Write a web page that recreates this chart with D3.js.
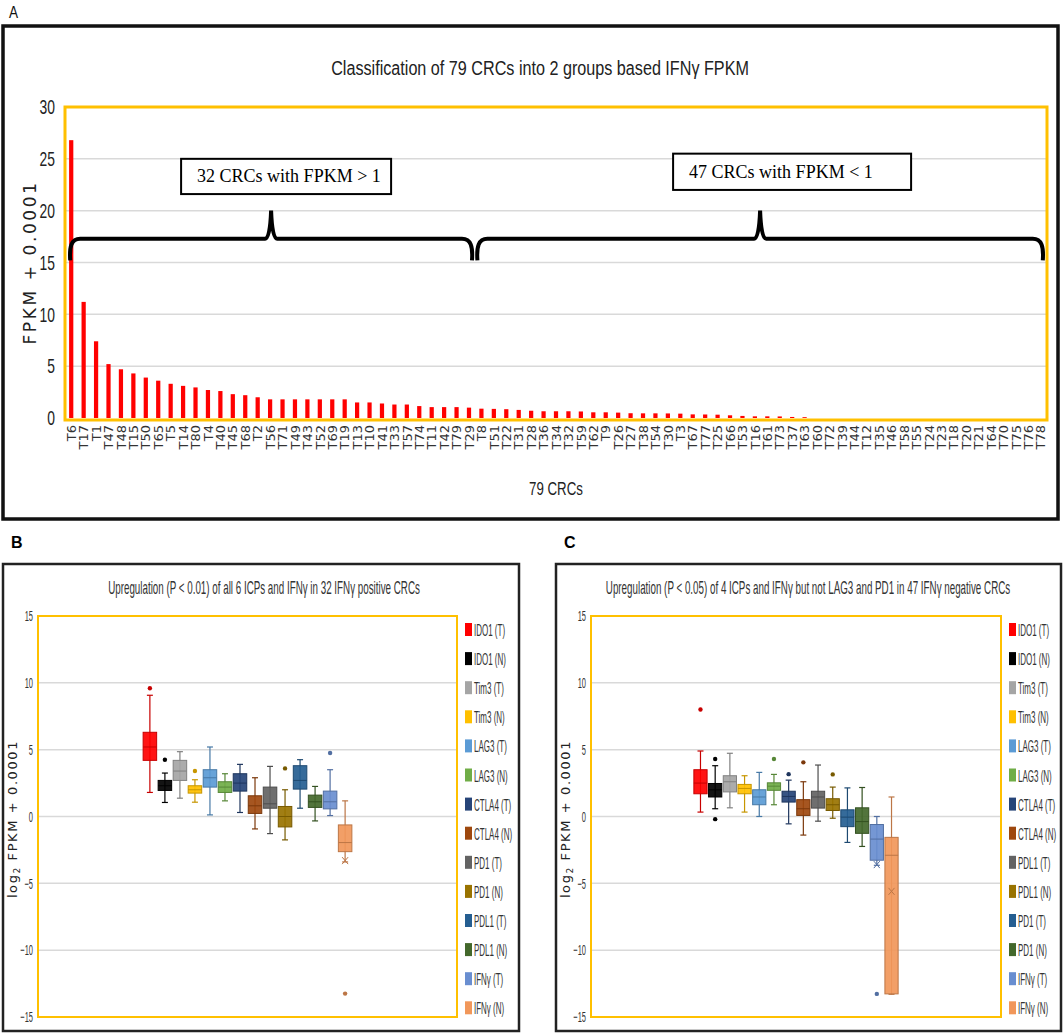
<!DOCTYPE html>
<html>
<head>
<meta charset="utf-8">
<title>IFNγ FPKM classification of CRCs</title>
<script src="https://cdn.jsdelivr.net/npm/d3@7"></script>
<style>
  body { margin: 0; background: #fff; }
  text { font-family: "Liberation Sans", Arial, sans-serif; }
</style>
</head>
<body>
<svg id="fig" width="1064" height="1036"></svg>
<script>
// ---- panel A data: IFNγ FPKM + 0.0001 per tumour, sorted
var samples = ["T6","T17","T1","T47","T48","T15","T50","T65","T5","T14","T80","T4","T40","T45","T68","T2",
  "T56","T71","T49","T43","T52","T69","T19","T13","T10","T41","T33","T57","T74","T11","T42","T79","T29",
  "T8","T51","T22","T31","T28","T36","T34","T32","T59","T62","T9","T26","T27","T38","T54","T30","T3",
  "T67","T77","T25","T66","T53","T16","T61","T73","T37","T63",
  "T60","T72","T39","T44","T12","T35","T46","T58","T55","T24","T23","T18","T20","T21","T64","T70","T75","T76","T78"];
var fpkm = [26.8, 11.2, 7.4, 5.2, 4.7, 4.3, 3.9, 3.6, 3.3, 3.1, 2.95, 2.7, 2.6, 2.3, 2.2, 2.0,
  1.8, 1.8, 1.8, 1.8, 1.8, 1.8, 1.8, 1.5, 1.5, 1.4, 1.3, 1.3, 1.15, 1.05, 1.05, 1.05, 1.0,
  0.9, 0.88, 0.85, 0.78, 0.7, 0.65, 0.65, 0.65, 0.63, 0.55, 0.55, 0.52, 0.46, 0.45, 0.45, 0.44, 0.42,
  0.35, 0.34, 0.32, 0.26, 0.2, 0.16, 0.16, 0.15, 0.1, 0.08,
  0.0001, 0.0001, 0.0001, 0.0001, 0.0001, 0.0001, 0.0001, 0.0001, 0.0001, 0.0001, 0.0001, 0.0001,
  0.0001, 0.0001, 0.0001, 0.0001, 0.0001, 0.0001, 0.0001];
var ticksA = [0, 5, 10, 15, 20, 25, 30];
// groups: first / last sample under each brace, label
var groupFrom = ["T6", "T8"];
var groupTo = ["T29", "T78"];
var groupLabels = ["32 CRCs with FPKM > 1", "47 CRCs with FPKM < 1"];

// ---- panels B / C: log2 FPKM box stats [whisker low, q1, median, q3, whisker high]
var namesB = ["IDO1 (T)","IDO1 (N)","Tim3 (T)","Tim3 (N)","LAG3 (T)","LAG3 (N)","CTLA4 (T)","CTLA4 (N)",
  "PD1 (T)","PD1 (N)","PDL1 (T)","PDL1 (N)","IFNγ (T)","IFNγ (N)"];
var namesC = ["IDO1 (T)","IDO1 (N)","Tim3 (T)","Tim3 (N)","LAG3 (T)","LAG3 (N)","CTLA4 (T)","CTLA4 (N)",
  "PDL1 (T)","PDL1 (N)","PD1 (T)","PD1 (N)","IFNγ (T)","IFNγ (N)"];
var statsB = [
  [1.8, 4.2, 5.2, 6.3, 9.07], [1.05, 1.95, 2.3, 2.7, 3.25], [1.37, 2.7, 3.4, 4.2, 4.85], [1.07, 1.75, 2.0, 2.3, 2.75],
  [0.12, 2.2, 2.9, 3.5, 5.2], [1.17, 1.8, 2.2, 2.6, 3.2], [0.3, 1.9, 2.5, 3.2, 3.9], [-0.93, 0.23, 0.8, 1.55, 2.9],
  [-1.28, 0.62, 0.95, 2.2, 3.75], [-1.75, -0.78, 0.0, 0.75, 2.0], [0.62, 2.05, 2.7, 3.8, 4.25], [-0.33, 0.68, 1.1, 1.6, 2.25],
  [0.07, 0.57, 1.1, 1.9, 3.5], [-3.4, -2.63, -1.95, -0.63, 1.17]];
var outliersB = [[9.6], [4.25], [], [3.4], [], [], [], [], [], [3.6], [], [], [4.75], [-13.25]];
var meansB = [null, null, null, null, null, null, null, null, null, null, null, null, null, -3.3];
var statsC = [
  [0.33, 1.7, 2.5, 3.5, 4.9], [0.58, 1.46, 2.0, 2.47, 3.8], [0.65, 1.84, 2.6, 3.05, 4.73], [0.33, 1.7, 2.1, 2.4, 3.05],
  [0.0, 0.88, 1.46, 2.0, 3.3], [0.88, 1.96, 2.27, 2.52, 3.15], [-0.55, 1.08, 1.5, 1.89, 2.72], [-1.39, 0.08, 0.58, 1.26, 2.6],
  [-0.35, 0.63, 1.46, 1.89, 3.85], [-0.13, 0.45, 0.88, 1.33, 2.2], [-1.94, -0.76, -0.05, 0.5, 2.14], [-2.24, -1.26, -0.38, 0.65, 2.17],
  [-3.65, -3.27, -1.69, -0.6, 0.0], [-13.3, -13.27, -2.9, -1.56, 1.46]];
var outliersC = [[8.0], [4.3, -0.2], [], [], [], [4.3], [3.17], [4.05], [], [3.15], [], [], [-13.27], []];
var meansC = [null, null, null, null, null, null, null, null, null, null, null, null, -3.6, -5.6];
var ticksBC = [-15, -10, -5, 0, 5, 10, 15];

var boxColors = ["#ff0000","#000000","#a5a5a5","#ffc000","#5b9bd5","#70ad47","#264478","#9e480e",
  "#636363","#997300","#255e91","#43682b","#698ed0","#f1975a"];

var svg = d3.select("#fig");
var ORANGE = "#ffc000", GRID = "#d9d9d9";

// narrow text: draw at (x, y) and compress horizontally by k
function narrowText(parent, x, y, k, str, size, anchor) {
  return parent.append("text")
    .attr("transform", "translate(" + x + "," + y + ") scale(" + k + ",1)")
    .attr("text-anchor", anchor || "start").attr("font-size", size).text(str);
}

// ================= Panel A =================
narrowText(svg, 9, 18, 0.8, "A", 17).attr("fill", "#111");
svg.append("rect").attr("x", 3).attr("y", 26).attr("width", 1055).attr("height", 493)
  .attr("fill", "none").attr("stroke", "#111").attr("stroke-width", 3.5);

var aL = 65, aR = 1047, aT = 107, aB = 418;
var xA = d3.scaleBand().domain(samples).range([aL, aR]).paddingInner(0.66).paddingOuter(0.33);
var yA = d3.scaleLinear().domain([0, 30]).range([aB, aT]);

narrowText(svg, 540, 75, 0.77, "Classification of 79 CRCs into 2 groups based IFNγ FPKM", 21, "middle")
  .attr("fill", "#222");

svg.append("g").selectAll("line").data(ticksA.slice(1, -1)).join("line")
  .attr("x1", aL).attr("x2", aR).attr("y1", yA).attr("y2", yA)
  .attr("stroke", GRID).attr("stroke-width", 1.5);

svg.append("g").selectAll("rect").data(samples).join("rect")
  .attr("x", function(d) { return xA(d); })
  .attr("width", xA.bandwidth())
  .attr("y", function(d, i) { return yA(fpkm[i]); })
  .attr("height", function(d, i) { return aB - yA(fpkm[i]); })
  .attr("fill", "#ff0000");

svg.append("rect").attr("x", aL).attr("y", aT).attr("width", aR - aL).attr("height", aB - aT + 2)
  .attr("fill", "none").attr("stroke", ORANGE).attr("stroke-width", 3);

var axA = svg.append("g").attr("transform", "translate(" + aL + ",0)")
  .call(d3.axisLeft(yA).tickValues(ticksA).tickSize(0).tickPadding(0));
axA.select(".domain").remove();
axA.selectAll("text").attr("font-size", 21).attr("fill", "#222").style("font-family", "Liberation Sans")
  .attr("x", -10 / 0.66).attr("transform", "scale(0.66,1)");

var axAx = svg.append("g").attr("transform", "translate(0," + (aB + 2) + ")")
  .call(d3.axisBottom(xA).tickSize(0));
axAx.select(".domain").remove();
axAx.selectAll("text").attr("transform", "rotate(-90)").attr("text-anchor", "end")
  .attr("x", -5).attr("y", 0).attr("dy", "0.36em")
  .attr("font-size", 13).attr("fill", "#333").style("font-family", "DejaVu Sans");

svg.append("text").attr("transform", "translate(36," + ((aT + aB) / 2) + ") rotate(-90)")
  .attr("text-anchor", "middle").attr("font-size", 17).attr("letter-spacing", 2.6)
  .style("font-family", "DejaVu Sans").attr("fill", "#222").text("FPKM + 0.0001");

narrowText(svg, 556, 495, 0.7, "79 CRCs", 19, "middle").attr("fill", "#222");

// braces
var braceLine = 17.3, braceEnd = 15.2, braceTip = 20;
function bracePath(x0, x1) {
  var yl = yA(braceLine), ye = yA(braceEnd), yt = yA(braceTip), xm = (x0 + x1) / 2;
  var p = d3.path();
  p.moveTo(x0, ye);
  p.bezierCurveTo(x0 - 1, yl + 8, x0 + 1, yl, x0 + 10, yl);
  p.lineTo(xm - 6, yl);
  p.quadraticCurveTo(xm - 1, yl, xm, yt);
  p.quadraticCurveTo(xm + 1, yl, xm + 6, yl);
  p.lineTo(x1 - 10, yl);
  p.bezierCurveTo(x1 - 1, yl, x1 + 1, yl + 8, x1, ye);
  return p.toString();
}
var braceX0 = groupFrom.map(function(s, i) { return xA(s) + xA.bandwidth() / 2 + (i ? -4 : -1); });
var braceX1 = groupTo.map(function(s, i) { return xA(s) + xA.bandwidth() / 2 + (i ? 2 : 3); });
svg.append("g").selectAll("path").data(groupLabels).join("path")
  .attr("d", function(d, i) { return bracePath(braceX0[i], braceX1[i]); })
  .attr("fill", "none").attr("stroke", "#000").attr("stroke-width", 4);

var labelBoxW = [210, 238], labelBoxTop = [25.0, 25.5], labelBoxBot = [21.6, 22.0];
groupLabels.forEach(function(lab, i) {
  var cx = (braceX0[i] + braceX1[i]) / 2 + (i ? 32 : 15);
  var g = svg.append("g");
  g.append("rect").attr("x", cx - labelBoxW[i] / 2).attr("y", yA(labelBoxTop[i]))
    .attr("width", labelBoxW[i]).attr("height", yA(labelBoxBot[i]) - yA(labelBoxTop[i]))
    .attr("fill", "#fff").attr("stroke", "#000").attr("stroke-width", 2);
  g.append("text").attr("x", cx - labelBoxW[i] / 2 + 16).attr("y", yA((labelBoxTop[i] + labelBoxBot[i]) / 2) + 6)
    .style("font-family", "Liberation Serif").attr("font-size", 18).attr("fill", "#000").text(lab);
});

// ================= Panels B and C =================
function boxPanel(o) {
  var g = svg.append("g");
  g.append("text").attr("x", o.frameX + 8).attr("y", 548).attr("font-size", 16)
    .attr("font-weight", "bold").text(o.tag);
  g.append("rect").attr("x", o.frameX).attr("y", 564).attr("width", o.frameW).attr("height", 467)
    .attr("fill", "none").attr("stroke", "#222").attr("stroke-width", 2.5);
  narrowText(g, (o.left + o.right) / 2 + o.titleDx, 594, 0.545, o.title, 18, "middle").attr("fill", "#333");

  var y = d3.scaleLinear().domain([-15, 15]).range([1017, 616]);
  var x = d3.scaleBand().domain(o.names).range([o.left, o.right]).paddingInner(0.1).paddingOuter(7);

  g.append("g").selectAll("line").data(ticksBC.slice(1, -1)).join("line")
    .attr("x1", o.left).attr("x2", o.right).attr("y1", y).attr("y2", y)
    .attr("stroke", GRID).attr("stroke-width", 1.5);
  g.append("rect").attr("x", o.left).attr("y", y(15)).attr("width", o.right - o.left).attr("height", y(-15) - y(15))
    .attr("fill", "none").attr("stroke", ORANGE).attr("stroke-width", 2);

  var ax = g.append("g").attr("transform", "translate(" + o.left + ",0)")
    .call(d3.axisLeft(y).tickValues(ticksBC).tickSize(0).tickPadding(0));
  ax.select(".domain").remove();
  ax.selectAll("text").attr("font-size", 15).attr("fill", "#333").style("font-family", "Liberation Sans")
    .attr("x", -5 / 0.5).attr("transform", "scale(0.5,1)");

  var yt = g.append("text").attr("transform", "translate(" + o.ytitleX + ",819) rotate(-90)")
    .attr("text-anchor", "middle").attr("font-size", 13).attr("letter-spacing", 1.6)
    .style("font-family", "DejaVu Sans").attr("fill", "#222");
  yt.append("tspan").text("log");
  yt.append("tspan").attr("font-size", 9).attr("dy", 3).text("2");
  yt.append("tspan").attr("dy", -3).text(" FPKM + 0.0001");

  var bw = x.bandwidth();
  var boxes = g.append("g").selectAll("g").data(o.stats).join("g")
    .attr("transform", function(d, i) { return "translate(" + x(o.names[i]) + ",0)"; });
  boxes.each(function(s, i) {
    var b = d3.select(this), c = boxColors[i], dk = d3.color(c).darker(0.7).formatHex();
    var cx = bw / 2;
    b.append("line").attr("x1", cx).attr("x2", cx).attr("y1", y(s[0])).attr("y2", y(s[4]))
      .attr("stroke", dk).attr("stroke-width", 1.2);
    [s[0], s[4]].forEach(function(v) {
      b.append("line").attr("x1", cx - 3).attr("x2", cx + 3).attr("y1", y(v)).attr("y2", y(v))
        .attr("stroke", dk).attr("stroke-width", 1.2);
    });
    b.append("rect").attr("x", 0).attr("width", bw).attr("y", y(s[3])).attr("height", y(s[1]) - y(s[3]))
      .attr("fill", c).attr("fill-opacity", 0.92).attr("stroke", dk).attr("stroke-width", 1);
    b.append("line").attr("x1", 0).attr("x2", bw).attr("y1", y(s[2])).attr("y2", y(s[2]))
      .attr("stroke", dk).attr("stroke-width", 1);
    b.selectAll("circle").data(o.outliers[i]).join("circle")
      .attr("cx", cx).attr("cy", y).attr("r", 2.2).attr("fill", dk);
    if (o.means[i] != null) {
      var my = y(o.means[i]);
      b.append("path").attr("d", "M" + (cx - 3) + "," + (my - 3.5) + "L" + (cx + 3) + "," + (my + 3.5) +
        "M" + (cx + 3) + "," + (my - 3.5) + "L" + (cx - 3) + "," + (my + 3.5))
        .attr("stroke", dk).attr("stroke-width", 1);
    }
  });

  var lg = g.append("g").selectAll("g").data(o.names).join("g")
    .attr("transform", function(d, i) { return "translate(" + o.legendX + "," + (630 + i * 29.1) + ")"; });
  lg.append("rect").attr("x", 0).attr("y", -7).attr("width", 7).attr("height", 13)
    .attr("fill", function(d, i) { return boxColors[i]; });
  lg.append("text").attr("transform", "translate(9,6) scale(0.5,1)").attr("font-size", 16).attr("fill", "#333")
    .text(function(d) { return d; });
}

boxPanel({ tag: "B", frameX: 3, frameW: 516, left: 38, right: 457, titleDx: 16.5, ytitleX: 17, legendX: 465,
  title: "Upregulation (P < 0.01) of all 6 ICPs and IFNγ in 32 IFNγ positive CRCs",
  names: namesB, stats: statsB, outliers: outliersB, means: meansB });
boxPanel({ tag: "C", frameX: 556, frameW: 505, left: 591, right: 1001, titleDx: 12, ytitleX: 570, legendX: 1009,
  title: "Upregulation (P < 0.05) of 4 ICPs and IFNγ but not LAG3 and PD1 in 47 IFNγ negative CRCs",
  names: namesC, stats: statsC, outliers: outliersC, means: meansC });
</script>
</body>
</html>
